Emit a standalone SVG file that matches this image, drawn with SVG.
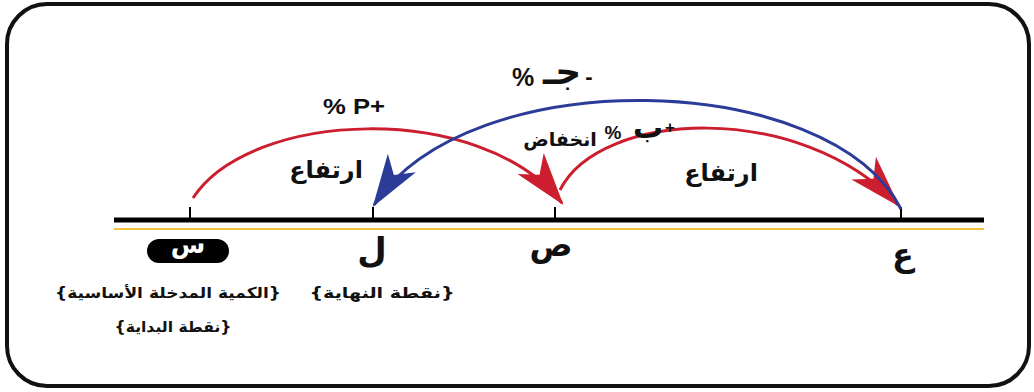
<svg xmlns="http://www.w3.org/2000/svg" width="1034" height="392" viewBox="0 0 1034 392">
<style>
.ar{font-family:"DejaVu Sans","Noto Sans",sans-serif;font-weight:bold;fill:#111}
.lat{font-family:"Liberation Sans","DejaVu Sans",sans-serif;font-weight:bold;fill:#111}
.red{fill:none;stroke:#cc1e2e;stroke-width:3}
.blue{fill:none;stroke:#2b3c98;stroke-width:3}
.tick{stroke:#000;stroke-width:2}
</style>
<defs>
<marker id="ahRed" markerUnits="userSpaceOnUse" markerWidth="60" markerHeight="50" refX="0" refY="0" viewBox="-46 -20 50 40" orient="auto">
<path d="M2,0 L-42,-14 L-30,0 L-42,14 Z" fill="#cc1e2e"/>
</marker>
<marker id="ahBlue" markerUnits="userSpaceOnUse" markerWidth="60" markerHeight="50" refX="0" refY="0" viewBox="-46 -20 50 40" orient="auto">
<path d="M2,0 L-42,-14 L-30,0 L-42,14 Z" fill="#2b3c98"/>
</marker>
</defs>
<rect width="1034" height="392" fill="#fff"/>
<rect id="frame" x="7" y="4" width="1022" height="382" rx="40" ry="40" fill="none" stroke="#111" stroke-width="4"/>

<g id="axis">
<line x1="114" y1="220" x2="984" y2="220" stroke="#000" stroke-width="5"/>
<line x1="114" y1="229" x2="984" y2="229" stroke="#f2c23c" stroke-width="2"/>
<line class="tick" x1="190" y1="207" x2="190" y2="220"/>
<line class="tick" x1="373" y1="207" x2="373" y2="220"/>
<line class="tick" x1="555" y1="207" x2="555" y2="220"/>
<line class="tick" x1="901" y1="207" x2="901" y2="220"/>
</g>

<g id="connectors">
<path id="arc-s-to-sad" class="red" d="M193,198 C250,110 480,100 562,203" marker-end="url(#ahRed)"/>
<path id="arc-sad-to-ain" class="red" d="M560,190 C600,110 800,100 898,205" marker-end="url(#ahRed)"/>
<path id="arc-ain-to-lam" class="blue" d="M901,209 C830,70 470,60 374,205" marker-end="url(#ahBlue)"/>
</g>

<g id="arc-labels">
<text class="lat" x="323" y="114" font-size="22" textLength="62" lengthAdjust="spacingAndGlyphs">% P+</text>
<g id="label-minus-j">
<text class="lat" x="523" y="86" font-size="25" text-anchor="middle">%</text>
<text class="ar" x="562" y="84" font-size="36" text-anchor="middle">جـ</text>
<text class="lat" x="589" y="84" font-size="22" text-anchor="middle">-</text>
</g>
<g id="label-plus-b">
<text class="ar" x="560" y="146" font-size="19" font-weight="normal" text-anchor="middle" direction="rtl">انخفاض</text>
<text class="lat" x="613" y="139" font-size="19" text-anchor="middle">%</text>
<text class="ar" x="648" y="138" font-size="30" text-anchor="middle">ب</text>
<text class="lat" x="670" y="133" font-size="17" text-anchor="middle">+</text>
</g>
<text class="ar" x="326" y="178" font-size="24" font-weight="normal" text-anchor="middle" direction="rtl">ارتفاع</text>
<text class="ar" x="721" y="181" font-size="24" font-weight="normal" text-anchor="middle" direction="rtl">ارتفاع</text>
</g>

<g id="node-sin">
<rect x="147" y="239" width="82" height="24" rx="12" fill="#000"/>
<text class="ar" x="188" y="253" font-size="25" style="fill:#fff" text-anchor="middle">س</text>
<text class="ar" x="168" y="298" font-size="15" text-anchor="middle" direction="rtl" textLength="226" lengthAdjust="spacingAndGlyphs">{الكمية المدخلة الأساسية}</text>
<text class="ar" x="173" y="332" font-size="15" text-anchor="middle" direction="rtl" textLength="117" lengthAdjust="spacingAndGlyphs">{نقطة البداية}</text>
</g>
<g id="node-lam">
<text class="ar" x="372" y="262" font-size="34" text-anchor="middle">ل</text>
<text class="ar" x="382" y="298" font-size="15" text-anchor="middle" direction="rtl" textLength="145" lengthAdjust="spacingAndGlyphs">{نقطة النهاية}</text>
</g>
<g id="node-sad">
<text class="ar" x="551" y="256" font-size="32" text-anchor="middle">ص</text>
</g>
<g id="node-ain">
<text class="ar" x="903" y="266" font-size="32" text-anchor="middle">ع</text>
</g>
</svg>
